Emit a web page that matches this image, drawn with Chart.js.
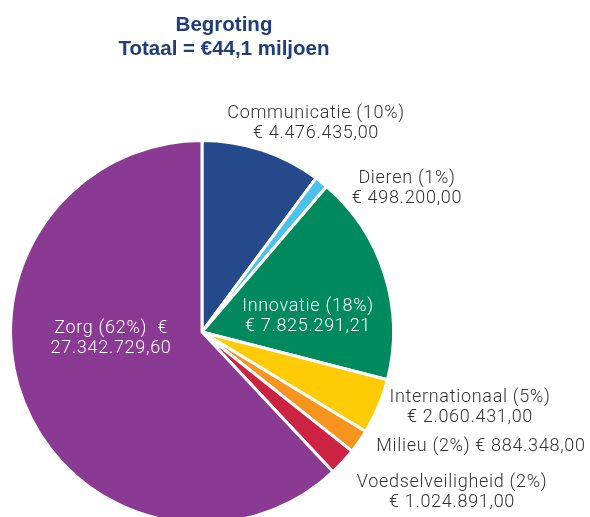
<!DOCTYPE html>
<html>
<head>
<meta charset="utf-8">
<script src="https://cdn.jsdelivr.net/npm/chart.js@4"></script>
<style>
  html, body { margin: 0; padding: 0; background: #fff; }
  #wrap { width: 590px; height: 517px; overflow: hidden; position: relative; }
</style>
</head>
<body>
<div id="wrap"><canvas id="begroting" width="590" height="540"></canvas></div>
<script>
const categories = ["Communicatie", "Dieren", "Innovatie", "Internationaal", "Milieu", "Voedselveiligheid", "Zorg"];
const amounts = [4476435.00, 498200.00, 7825291.21, 2060431.00, 884348.00, 1024891.00, 27342729.60];
const percentLabels = ["10%", "1%", "18%", "5%", "2%", "2%", "62%"];
const amountLabels = ["€ 4.476.435,00", "€ 498.200,00", "€ 7.825.291,21", "€ 2.060.431,00", "€ 884.348,00", "€ 1.024.891,00", "27.342.729,60"];
const colors = ["#244a8b", "#4cc1ec", "#008a5e", "#ffcb05", "#f7941e", "#cc2342", "#8b3a93"];
const titleLines = ["Begroting", "Totaal = €44,1 miljoen"];

// label text lines and where they sit (x = centre, y = first baseline)
const labelLines = [
    [categories[0] + " (" + percentLabels[0] + ")", amountLabels[0]],
    [categories[1] + " (" + percentLabels[1] + ")", amountLabels[1]],
    [categories[2] + " (" + percentLabels[2] + ")", amountLabels[2]],
    [categories[3] + " (" + percentLabels[3] + ")", amountLabels[3]],
    [categories[4] + " (" + percentLabels[4] + ") " + amountLabels[4]],
    [categories[5] + " (" + percentLabels[5] + ")", amountLabels[5]],
    [categories[6] + " (" + percentLabels[6] + ")  €", amountLabels[6]]
];
const labelPos = [[316, 118], [407, 183], [308, 311], [470, 402], [481, 451], [452, 487], [111, 333]];
const labelColor = ["#333", "#333", "#fff", "#333", "#333", "#333", "#fff"];

const textPlugin = {
    id: "texts",
    afterDraw(chart) {
        const ctx = chart.ctx;
        ctx.save();
        ctx.textAlign = "center";
        ctx.textBaseline = "alphabetic";
        ctx.fillStyle = "#1f3d7a";
        ctx.font = "bold 20.5px 'Liberation Sans', Arial, sans-serif";
        ctx.fillText(titleLines[0], 224, 31);
        ctx.fillText(titleLines[1], 224, 55);

        ctx.font = "300 18px Roboto, 'Liberation Sans', sans-serif";
        ctx.letterSpacing = "0.7px";
        labelLines.forEach((lines, i) => {
            ctx.fillStyle = labelColor[i];
            lines.forEach((t, j) => {
                ctx.fillText(t, labelPos[i][0], labelPos[i][1] + j * 20);
            });
        });
        ctx.restore();
    }
};

new Chart(document.getElementById("begroting").getContext("2d"), {
    type: "pie",
    data: {
        labels: categories,
        datasets: [{
            data: amounts,
            backgroundColor: colors,
            borderColor: "#ffffff",
            borderWidth: 3,
            hoverOffset: 0
        }]
    },
    options: {
        responsive: false,
        animation: false,
        layout: { padding: { left: 9, top: 139, right: 195, bottom: 15 } },
        plugins: {
            legend: { display: false },
            tooltip: { enabled: false },
            title: { display: false }
        }
    },
    plugins: [textPlugin]
});
</script>
</body>
</html>
